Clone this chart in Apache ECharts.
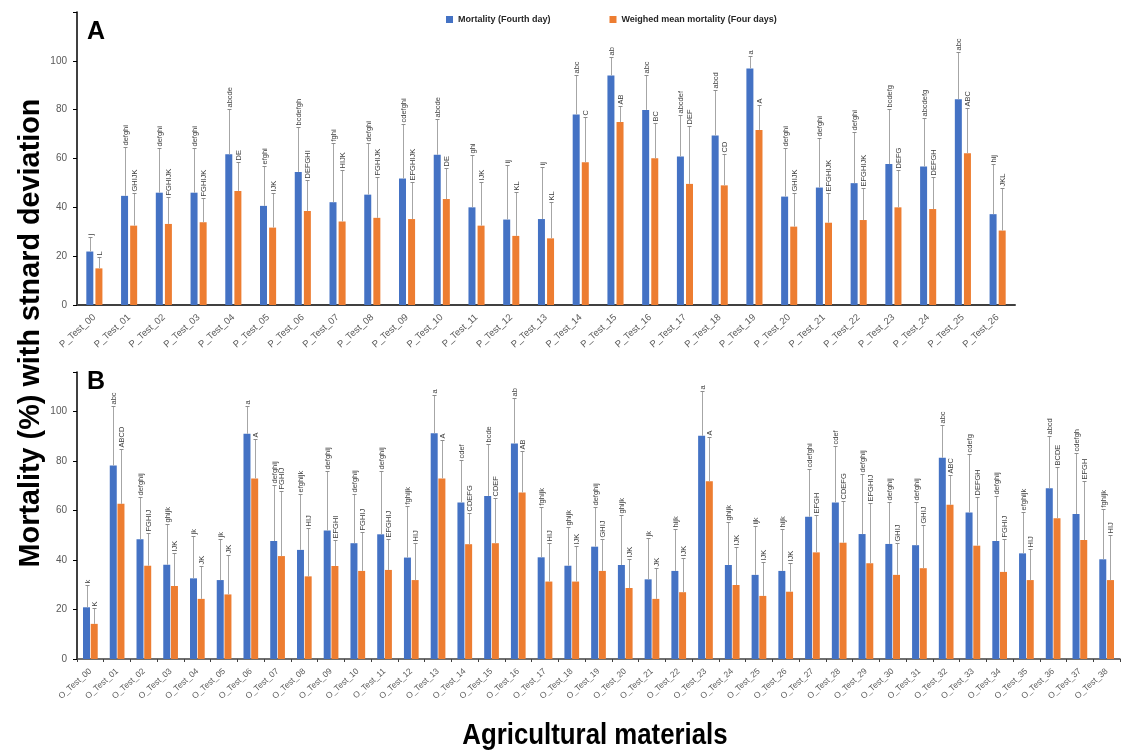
<!DOCTYPE html>
<html>
<head>
<meta charset="utf-8">
<script src="https://cdn.jsdelivr.net/npm/echarts@6/dist/echarts.min.js"></script>
<style>
  html, body { margin: 0; padding: 0; background: #fff; }
  #chart { width: 1122px; height: 754px; }
</style>
</head>
<body>
<div id="chart"></div>
<script>
// panel A categories
var catA = ['P_Test_00', 'P_Test_01', 'P_Test_02', 'P_Test_03', 'P_Test_04', 'P_Test_05', 'P_Test_06',
  'P_Test_07', 'P_Test_08', 'P_Test_09', 'P_Test_10', 'P_Test_11', 'P_Test_12', 'P_Test_13', 'P_Test_14',
  'P_Test_15', 'P_Test_16', 'P_Test_17', 'P_Test_18', 'P_Test_19', 'P_Test_20', 'P_Test_21', 'P_Test_22',
  'P_Test_23', 'P_Test_24', 'P_Test_25', 'P_Test_26'];

// Mortality (Fourth day), panel A
var dayA = [21.9, 44.7, 46.0, 46.0, 61.7, 40.6, 54.5, 42.1, 45.2, 51.8, 61.5, 40.0, 35.0, 35.2,
  78.0, 94.0, 79.9, 60.8, 69.4, 96.9, 44.4, 48.1, 49.9, 57.7, 56.7, 84.3, 37.2];
var dayASd = [6.1, 20.2, 18.5, 18.5, 18.5, 16.4, 18.6, 24.2, 21.1, 22.4, 14.7, 21.5, 22.4, 21.5,
  16.0, 7.4, 14.4, 17.1, 18.7, 5.1, 20.1, 20.2, 21.1, 22.5, 19.8, 19.3, 20.6];
var dayALetters = ['j', 'defghi', 'defghi', 'defghi', 'abcde', 'efghi', 'bcdefgh', 'fghi', 'defghi',
  'cdefghi', 'abcde', 'ghi', 'ij', 'ij', 'abc', 'ab', 'abc', 'abcdef', 'abcd', 'a', 'defghi', 'defghi',
  'defghi', 'bcdefg', 'abcdefg', 'abc', 'hij'];

// Weighed mean mortality (Four days), panel A
var meanA = [15.0, 32.5, 33.2, 33.9, 46.7, 31.7, 38.5, 34.2, 35.7, 35.2, 43.4, 32.5, 28.3, 27.3,
  58.5, 74.9, 60.1, 49.6, 49.0, 71.7, 32.1, 33.7, 34.8, 40.0, 39.3, 62.2, 30.5];
var meanASd = [4.5, 13.3, 11.2, 10.1, 12.0, 14.1, 12.7, 21.1, 16.9, 15.3, 12.9, 18.0, 17.9, 15.0,
  18.7, 6.7, 14.4, 23.8, 12.9, 10.3, 13.9, 12.3, 13.3, 15.3, 13.3, 18.4, 17.6];
var meanALetters = ['L', 'GHIJK', 'FGHIJK', 'FGHIJK', 'DE', 'IJK', 'DEFGHI', 'HIJK', 'FGHIJK',
  'EFGHIJK', 'DE', 'IJK', 'KL', 'KL', 'C', 'AB', 'BC', 'DEF', 'CD', 'A', 'GHIJK', 'EFGHIJK',
  'EFGHIJK', 'DEFG', 'DEFGH', 'ABC', 'JKL'];

// panel B categories
var catB = ['O_Test_00', 'O_Test_01', 'O_Test_02', 'O_Test_03', 'O_Test_04', 'O_Test_05', 'O_Test_06',
  'O_Test_07', 'O_Test_08', 'O_Test_09', 'O_Test_10', 'O_Test_11', 'O_Test_12', 'O_Test_13', 'O_Test_14',
  'O_Test_15', 'O_Test_16', 'O_Test_17', 'O_Test_18', 'O_Test_19', 'O_Test_20', 'O_Test_21', 'O_Test_22',
  'O_Test_23', 'O_Test_24', 'O_Test_25', 'O_Test_26', 'O_Test_27', 'O_Test_28', 'O_Test_29', 'O_Test_30',
  'O_Test_31', 'O_Test_32', 'O_Test_33', 'O_Test_34', 'O_Test_35', 'O_Test_36', 'O_Test_37', 'O_Test_38'];

var dayB = [20.9, 78.2, 48.4, 38.1, 32.6, 31.9, 91.0, 47.7, 44.1, 51.9, 46.8, 50.4, 41.0, 91.2,
  63.3, 65.9, 87.1, 41.1, 37.7, 45.4, 38.0, 32.2, 35.6, 90.2, 38.0, 34.0, 35.6, 57.5, 63.3, 50.5,
  46.5, 46.0, 81.3, 59.2, 47.7, 42.7, 69.0, 58.6, 40.3];
var dayBSd = [9.0, 24.2, 17.2, 16.3, 17.3, 16.6, 11.4, 22.7, 22.6, 24.1, 19.8, 25.6, 20.9, 15.5,
  17.2, 21.0, 18.3, 20.5, 15.8, 16.2, 20.2, 16.9, 16.8, 18.3, 17.5, 19.9, 17.0, 19.2, 22.8, 24.3,
  16.8, 17.6, 13.3, 23.5, 18.2, 16.9, 21.2, 24.8, 20.3];
var dayBLetters = ['k', 'abc', 'defghij', 'ghijk', 'jk', 'jk', 'a', 'defghij', 'efghijk', 'defghij',
  'defghij', 'defghij', 'fghijk', 'a', 'cdef', 'bcde', 'ab', 'fghijk', 'ghijk', 'defghij', 'ghijk',
  'jk', 'hijk', 'a', 'ghijk', 'ijk', 'hijk', 'cdefghi', 'cdef', 'defghij', 'defghij', 'defghij', 'abc',
  'cdefg', 'defghij', 'efghijk', 'abcd', 'cdefgh', 'fghijk'];

var meanB = [14.2, 62.7, 37.7, 29.5, 24.3, 26.1, 73.0, 41.6, 33.4, 37.6, 35.6, 36.0, 31.9, 73.0,
  46.4, 46.8, 67.3, 31.3, 31.3, 35.6, 28.7, 24.3, 27.0, 71.8, 29.9, 25.5, 27.2, 43.1, 47.0, 38.7,
  34.0, 36.7, 62.3, 45.8, 35.2, 31.9, 56.9, 48.1, 31.9];
var meanBSd = [6.3, 22.1, 13.4, 13.5, 13.3, 15.9, 15.8, 26.3, 19.4, 10.5, 15.6, 12.4, 15.1, 15.5,
  12.5, 18.4, 16.9, 15.7, 14.5, 12.9, 11.6, 12.4, 13.7, 18.1, 15.5, 13.6, 11.5, 15.1, 17.0, 24.2,
  13.0, 17.5, 12.1, 19.8, 13.3, 12.6, 20.9, 23.9, 18.2];
var meanBLetters = ['K', 'ABCD', 'FGHIJ', 'IJK', 'JK', 'JK', 'A', 'FGHIJ', 'HIJ', 'EFGHI', 'FGHIJ',
  'EFGHIJ', 'HIJ', 'A', 'CDEFG', 'CDEF', 'AB', 'HIJ', 'IJK', 'GHIJ', 'IJK', 'JK', 'IJK', 'A', 'IJK',
  'IJK', 'IJK', 'EFGH', 'CDEFG', 'EFGHIJ', 'GHIJ', 'GHIJ', 'ABC', 'DEFGH', 'FGHIJ', 'HIJ', 'BCDE',
  'EFGH', 'HIJ'];

var yTicks = [0, 20, 40, 60, 80, 100];

var BLUE = '#4472C4';
var ORANGE = '#ED7D31';
var NAME1 = 'Mortality (Fourth day)';
var NAME2 = 'Weighed mean mortality (Four days)';

// error bar (plus direction only) with the letter on top
function errorBars(values, sds, letters, offset, axis) {
  var data = values.map(function (v, i) { return [i, v, sds[i]]; });
  return {
    type: 'custom',
    xAxisIndex: axis,
    yAxisIndex: axis,
    z: 5,
    encode: { x: 0, y: 1 },
    data: data,
    renderItem: function (params, api) {
      var i = api.value(0);
      var v = api.value(1);
      var base = api.coord([i, v]);
      var top = api.coord([i, v + api.value(2)]);
      var x = Math.round(base[0] + offset) + 0.5;
      var ty = Math.round(top[1]) + 0.5;
      return {
        type: 'group',
        children: [
          { type: 'line', shape: { x1: x, y1: base[1], x2: x, y2: ty },
            style: { stroke: '#a6a6a6', lineWidth: 1 } },
          { type: 'line', shape: { x1: x - 2, y1: ty, x2: x + 2, y2: ty },
            style: { stroke: '#8c8c8c', lineWidth: 1 } },
          { type: 'text', x: x, y: ty - 2, rotation: Math.PI / 2,
            style: { text: letters[params.dataIndex], x: 0, y: 0, align: 'left', verticalAlign: 'middle',
              fill: '#404040', font: '7.5px "Liberation Sans", Arial, sans-serif' } }
        ]
      };
    }
  };
}

var labelFont = '"Liberation Sans", Arial, sans-serif';

function yAxis(idx, max) {
  return {
    type: 'value',
    gridIndex: idx,
    min: 0,
    max: max,
    interval: 20,
    axisLine: { show: true, lineStyle: { color: '#000', width: 1.5 } },
    axisTick: { show: true, length: 4, lineStyle: { color: '#000' } },
    splitLine: { show: false },
    axisLabel: {
      fontSize: 10, color: '#595959', fontFamily: labelFont, margin: 10,
      formatter: function (v) { return yTicks.indexOf(v) >= 0 ? String(v) : ''; }
    }
  };
}

var chart = echarts.init(document.getElementById('chart'));
chart.setOption({
  animation: false,
  backgroundColor: '#fff',
  legend: {
    left: 441,
    top: 10,
    icon: 'rect',
    itemWidth: 7,
    itemHeight: 7,
    itemGap: 59,
    selectedMode: false,
    textStyle: { fontSize: 9, fontWeight: 'bold', color: '#262626', fontFamily: labelFont },
    data: [NAME1, NAME2]
  },
  grid: [
    { left: 77, right: 107, top: 12, height: 293, containLabel: false, outerBoundsMode: 'none' },
    { left: 77, right: 2, top: 372, height: 287, containLabel: false, outerBoundsMode: 'none' }
  ],
  xAxis: [
    {
      type: 'category', gridIndex: 0, data: catA,
      axisLine: { lineStyle: { color: '#404040', width: 2 } },
      axisTick: { show: false },
      axisLabel: { interval: 0, rotate: 42, fontSize: 9.5, color: '#595959', fontFamily: labelFont, margin: 11 }
    },
    {
      type: 'category', gridIndex: 1, data: catB,
      axisLine: { lineStyle: { color: '#404040', width: 1.5 } },
      axisTick: { show: true, length: 3, lineStyle: { color: '#404040' } },
      axisLabel: { interval: 0, rotate: 42, fontSize: 8.5, color: '#595959', fontFamily: labelFont, margin: 11 }
    }
  ],
  yAxis: [yAxis(0, 120), yAxis(1, 116)],
  series: [
    { name: NAME1, type: 'bar', xAxisIndex: 0, yAxisIndex: 0, data: dayA, barWidth: 7,
      itemStyle: { color: BLUE } },
    { name: NAME2, type: 'bar', xAxisIndex: 0, yAxisIndex: 0, data: meanA, barWidth: 7, barGap: '30%',
      itemStyle: { color: ORANGE } },
    { name: NAME1, type: 'bar', xAxisIndex: 1, yAxisIndex: 1, data: dayB, barWidth: 7,
      itemStyle: { color: BLUE } },
    { name: NAME2, type: 'bar', xAxisIndex: 1, yAxisIndex: 1, data: meanB, barWidth: 7, barGap: '10%',
      itemStyle: { color: ORANGE } },
    errorBars(dayA, dayASd, dayALetters, -4.5, 0),
    errorBars(meanA, meanASd, meanALetters, 4.5, 0),
    errorBars(dayB, dayBSd, dayBLetters, -3.85, 1),
    errorBars(meanB, meanBSd, meanBLetters, 3.85, 1)
  ],
  graphic: [
    { type: 'text', left: 87, top: 20,
      style: { text: 'A', font: 'bold 25px "Liberation Sans", Arial, sans-serif', fill: '#000' } },
    { type: 'text', left: 87, top: 370,
      style: { text: 'B', font: 'bold 25px "Liberation Sans", Arial, sans-serif', fill: '#000' } },
    { type: 'text', x: 31, y: 333, rotation: Math.PI / 2, scaleX: 0.96,
      style: { text: 'Mortality (%) with stnard deviation', align: 'center', verticalAlign: 'middle',
        font: 'bold 30px "Liberation Sans", Arial, sans-serif', fill: '#000' } },
    { type: 'text', x: 595, y: 736, scaleX: 0.86,
      style: { text: 'Agricultural materials', align: 'center', verticalAlign: 'middle',
        font: 'bold 30px "Liberation Sans", Arial, sans-serif', fill: '#000' } }
  ]
});
</script>
</body>
</html>
